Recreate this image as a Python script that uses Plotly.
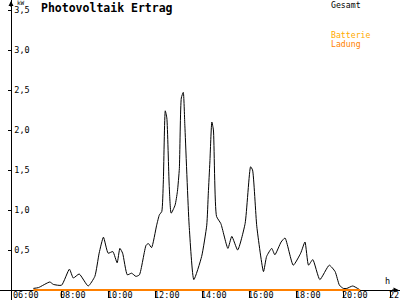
import plotly.graph_objects as go

# ---- data ----
times = ["06:47","07:00","07:29","07:38","07:59","08:19","08:29","08:44","09:07","09:24",
         "09:35","09:46","09:58","10:10","10:21","10:28","10:35","10:47","10:58","11:09",
         "11:18","11:35","11:41","11:49","12:02","12:09","12:15","12:19","12:24","12:28",
         "12:34","12:39","12:49","12:55","13:00","13:05","13:10","13:14","13:25","13:37",
         "13:57","14:10","14:14","14:18","14:23","14:27","14:35","14:46","15:04","15:14",
         "15:29","15:48","16:02","16:07","16:18","16:35","16:43","16:56","17:04","17:20",
         "17:30","17:51","18:10","18:21","18:30","18:41","18:59","19:23","19:38","19:49",
         "19:59","20:08","20:23","20:42"]
gesamt_kw = [0.02,0.03,0.10,0.07,0.06,0.26,0.15,0.20,0.05,0.17,
             0.46,0.66,0.46,0.48,0.34,0.52,0.46,0.19,0.21,0.17,
             0.19,0.56,0.58,0.53,0.81,0.94,0.98,1.35,2.24,2.15,
             1.31,0.96,1.06,1.23,1.52,2.40,2.47,2.06,0.81,0.13,
             0.42,0.81,1.21,1.60,2.10,2.00,0.92,0.83,0.52,0.67,
             0.50,0.83,1.54,1.50,0.79,0.23,0.42,0.52,0.44,0.60,
             0.65,0.31,0.46,0.60,0.31,0.38,0.13,0.31,0.23,0.06,
             0.02,0.02,0.05,0.00]
battery_times = ["06:47", "20:42"]
battery_kw = [0.0, 0.0]

x_tick_hours = [6, 8, 10, 12, 14, 16, 18, 20, 22]
x_tick_labels = ["06:00", "08:00", "10:00", "12:00", "14:00", "16:00", "18:00", "20:00", "22:00"]
y_tick_vals = [0.5, 1.0, 1.5, 2.0, 2.5, 3.0, 3.5]
y_tick_labels = ["0,5", "1,0", "1,5", "2,0", "2,5", "3,0", "3,5"]


def to_hours(s):
    h, m = s.split(":")
    return int(h) + int(m) / 60.0


W, H = 400, 300
PX_PER_H = 23.48
PX_PER_KW = 80.0
X6 = 15.0      # pixel of 06:00
Y0 = 290.0     # pixel of 0 kW
AXIS_X = 11.0  # pixel of y axis

x_range = [6 - X6 / PX_PER_H, 6 + (W - X6) / PX_PER_H]
y_range = [-(H - Y0) / PX_PER_KW, Y0 / PX_PER_KW]

MONO = "DejaVu Sans Mono"

fig = go.Figure()
fig.add_trace(go.Scatter(
    x=[to_hours(t) for t in times], y=gesamt_kw, mode="lines",
    line=dict(color="black", width=1, shape="spline", smoothing=0.5),
    showlegend=False, hoverinfo="skip"))
fig.add_trace(go.Scatter(
    x=[to_hours(t) for t in battery_times], y=battery_kw, mode="lines",
    line=dict(color="#FF8000", width=2),
    showlegend=False, hoverinfo="skip"))

fig.update_layout(
    width=W, height=H,
    margin=dict(l=0, r=0, t=0, b=0),
    paper_bgcolor="white", plot_bgcolor="white",
    showlegend=False,
    xaxis=dict(
        range=x_range, anchor="free", position=(H - Y0) / H,
        showgrid=False, zeroline=False, layer="below traces",
        showline=True, linecolor="black", linewidth=1,
        ticks="outside", ticklen=7, tickcolor="black", tickwidth=1,
        tickvals=x_tick_hours, showticklabels=False,
        automargin=False, fixedrange=True,
    ),
    yaxis=dict(
        range=y_range, anchor="free", position=AXIS_X / W,
        showgrid=False, zeroline=False, layer="below traces",
        showline=True, linecolor="black", linewidth=1,
        ticks="outside", ticklen=3, tickcolor="black", tickwidth=1,
        tickvals=y_tick_vals, ticktext=y_tick_labels,
        ticklabelposition="inside", ticklabelstandoff=1,
        tickfont=dict(family=MONO, size=8.5, color="black"),
        automargin=False, fixedrange=True,
    ),
)

def pxx(p):
    return p / W

def pxy(p):
    return 1 - p / H

ann = []
# x tick labels, left-aligned just before each tick
for hv, lab in zip(x_tick_hours, x_tick_labels):
    ann.append(dict(text=lab, x=hv, y=pxy(295), xref="x", yref="paper",
                    xanchor="left", yanchor="middle", xshift=-4, showarrow=False,
                    font=dict(family=MONO, size=8.5, color="black")))
# title
ann.append(dict(text="<b>Photovoltaik Ertrag</b>", x=pxx(39), y=pxy(8), xref="paper", yref="paper",
                xanchor="left", yanchor="middle", showarrow=False,
                font=dict(family=MONO, size=11.5, color="black")))
# legend texts
ann.append(dict(text="Gesamt", x=pxx(329), y=pxy(4.5), xref="paper", yref="paper",
                xanchor="left", yanchor="middle", showarrow=False,
                font=dict(family=MONO, size=8.2, color="black")))
ann.append(dict(text="Batterie", x=pxx(329), y=pxy(35.5), xref="paper", yref="paper",
                xanchor="left", yanchor="middle", showarrow=False,
                font=dict(family=MONO, size=8.2, color="#FFAA00")))
ann.append(dict(text="Ladung", x=pxx(329), y=pxy(44), xref="paper", yref="paper",
                xanchor="left", yanchor="middle", showarrow=False,
                font=dict(family=MONO, size=8.2, color="#FF8000")))
# unit labels
ann.append(dict(text="kW", x=pxx(15), y=pxy(2.5), xref="paper", yref="paper",
                xanchor="left", yanchor="middle", showarrow=False,
                font=dict(family=MONO, size=6, color="black")))
ann.append(dict(text="h", x=pxx(387), y=pxy(281), xref="paper", yref="paper",
                xanchor="center", yanchor="middle", showarrow=False,
                font=dict(family=MONO, size=8.5, color="black")))
# axis arrows
ann.append(dict(x=pxx(398.5), y=pxy(Y0), xref="paper", yref="paper", text="",
                showarrow=True, ax=-8, ay=0, arrowhead=2, arrowsize=1, arrowwidth=1,
                arrowcolor="black", standoff=0))
ann.append(dict(x=pxx(AXIS_X), y=pxy(0.5), xref="paper", yref="paper", text="",
                showarrow=True, ax=0, ay=8, arrowhead=2, arrowsize=1, arrowwidth=1,
                arrowcolor="black", standoff=0))
fig.update_layout(annotations=ann)

fig.write_html("out.html")
